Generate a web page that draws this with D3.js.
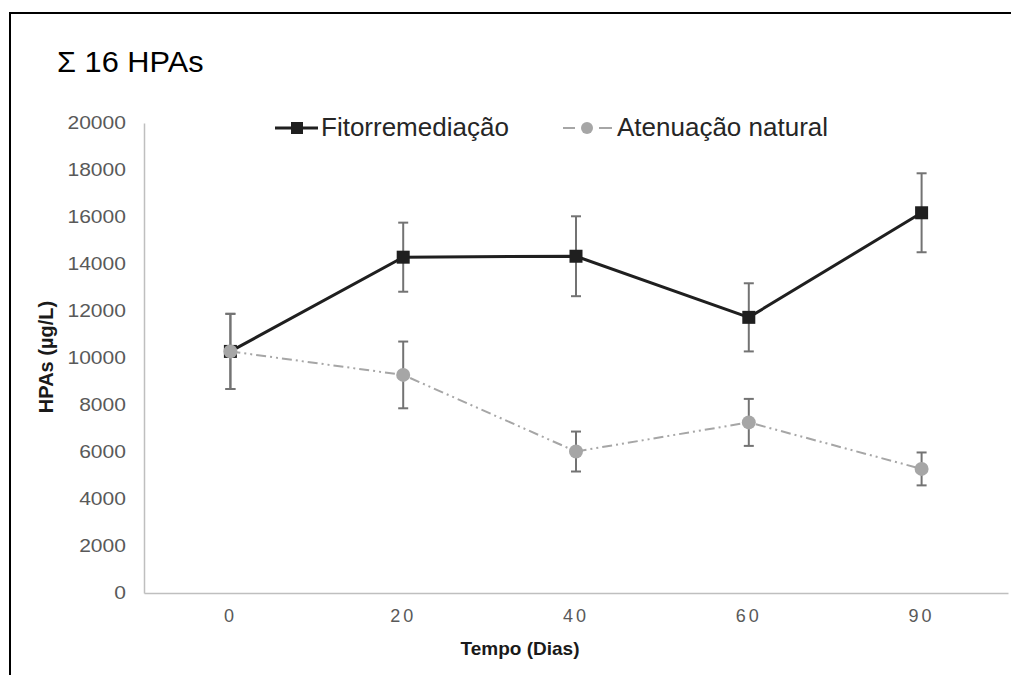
<!DOCTYPE html>
<html>
<head>
<meta charset="utf-8">
<script src="https://cdn.jsdelivr.net/npm/d3@7"></script>
<style>
  html, body { margin: 0; padding: 0; background: #fff; }
  svg { display: block; font-family: "Liberation Sans", Arial, sans-serif; }
</style>
</head>
<body>
<svg id="chart" width="1011" height="675"></svg>
<script>
// ---- data ----
const categories = ["0", "20", "40", "60", "90"];
const fitoValues = [10280, 14290, 14330, 11730, 16180];
const fitoErrors = [1600, 1470, 1700, 1450, 1680];
const natValues  = [10280, 9280, 6020, 7260, 5280];
const natErrors  = [1600, 1420, 850, 1000, 700];
const yTicks = [0, 2000, 4000, 6000, 8000, 10000, 12000, 14000, 16000, 18000, 20000];
const seriesNames = ["Fitorremediação", "Atenuação natural"];
const titleText = "Σ 16 HPAs";
const xTitle = "Tempo (Dias)";
const yTitle = "HPAs (µg/L)";

const svg = d3.select("#chart");

// frame
svg.append("path")
  .attr("d", "M10,675 L10,13 L1012,13")
  .attr("fill", "none").attr("stroke", "#000").attr("stroke-width", 2);

const x = d3.scaleBand().domain(categories).range([144, 1008]);
const y = d3.scaleLinear().domain([0, 20000]).range([593, 123]);
const cx = d => x(d) + x.bandwidth() / 2;

// y axis
const yAxis = svg.append("g").attr("transform", "translate(144,0)")
  .call(d3.axisLeft(y).tickValues(yTicks).tickSize(0).tickPadding(0).tickFormat(d3.format("d")));
yAxis.select(".domain").attr("stroke", "#bfbfbf").attr("stroke-width", 1.5);
yAxis.selectAll(".tick text")
  .attr("x", 0)
  .attr("transform", "translate(-18,0) scale(1.17,1)")
  .attr("fill", "#595959").attr("font-size", 18)
  .attr("font-family", "Liberation Sans, Arial, sans-serif");

// x axis
const xAxis = svg.append("g").attr("transform", "translate(0,593)")
  .call(d3.axisBottom(x).tickSize(0).tickPadding(16));
xAxis.select(".domain").attr("stroke", "#bfbfbf").attr("stroke-width", 1.5);
xAxis.selectAll("text").attr("fill", "#595959").attr("font-size", 18)
  .attr("letter-spacing", "3px").attr("dx", "0px")
  .attr("font-family", "Liberation Sans, Arial, sans-serif");

// titles
svg.append("text").attr("transform", "translate(57,72) scale(1.06,1)").attr("font-size", 29)
  .attr("fill", "#000").text(titleText);
svg.append("text").attr("x", 520).attr("y", 655).attr("text-anchor", "middle")
  .attr("font-size", 19).attr("font-weight", "bold").attr("fill", "#1a1a1a").text(xTitle);
svg.append("text").attr("transform", "translate(53,357) rotate(-90)")
  .attr("text-anchor", "middle").attr("font-size", 20).attr("font-weight", "bold")
  .attr("fill", "#1a1a1a").text(yTitle);

const line = d3.line().x((d, i) => cx(categories[i])).y(d => y(d));

// natural series line
svg.append("path").datum(natValues).attr("d", line)
  .attr("fill", "none").attr("stroke", "#a6a6a6").attr("stroke-width", 2)
  .attr("stroke-dasharray", "10,4,2,4,2,4");
// fito line
svg.append("path").datum(fitoValues).attr("d", line)
  .attr("fill", "none").attr("stroke", "#1f1f1f").attr("stroke-width", 3);

// error bars
function errorBars(vals, errs) {
  const g = svg.append("g").attr("stroke", "#737373").attr("stroke-width", 2);
  vals.forEach((v, i) => {
    const xc = cx(categories[i]);
    g.append("line").attr("x1", xc).attr("x2", xc).attr("y1", y(v + errs[i])).attr("y2", y(v - errs[i]));
    g.append("line").attr("x1", xc - 5).attr("x2", xc + 5).attr("y1", y(v + errs[i])).attr("y2", y(v + errs[i]));
    g.append("line").attr("x1", xc - 5).attr("x2", xc + 5).attr("y1", y(v - errs[i])).attr("y2", y(v - errs[i]));
  });
}
errorBars(fitoValues, fitoErrors);
errorBars(natValues, natErrors);

// markers
svg.selectAll(".sq").data(fitoValues).enter().append("rect")
  .attr("x", (d, i) => cx(categories[i]) - 6.5).attr("y", d => y(d) - 6.5)
  .attr("width", 13).attr("height", 13).attr("fill", "#1f1f1f");
svg.selectAll(".ci").data(natValues).enter().append("circle")
  .attr("cx", (d, i) => cx(categories[i])).attr("cy", d => y(d)).attr("r", 7)
  .attr("fill", "#a6a6a6");

// legend
const lg = svg.append("g");
lg.append("line").attr("x1", 275).attr("x2", 318).attr("y1", 128).attr("y2", 128)
  .attr("stroke", "#1f1f1f").attr("stroke-width", 3);
lg.append("rect").attr("x", 291).attr("y", 122).attr("width", 12).attr("height", 12).attr("fill", "#1f1f1f");
lg.append("text").attr("x", 321).attr("y", 136).attr("font-size", 26).attr("fill", "#262626").text(seriesNames[0]);
lg.append("line").attr("x1", 563).attr("x2", 612).attr("y1", 128).attr("y2", 128)
  .attr("stroke", "#a6a6a6").attr("stroke-width", 2).attr("stroke-dasharray", "12,24,13");
lg.append("circle").attr("cx", 587).attr("cy", 128).attr("r", 6).attr("fill", "#a6a6a6");
lg.append("text").attr("x", 617).attr("y", 136).attr("font-size", 26).attr("fill", "#262626").text(seriesNames[1]);
</script>
</body>
</html>
